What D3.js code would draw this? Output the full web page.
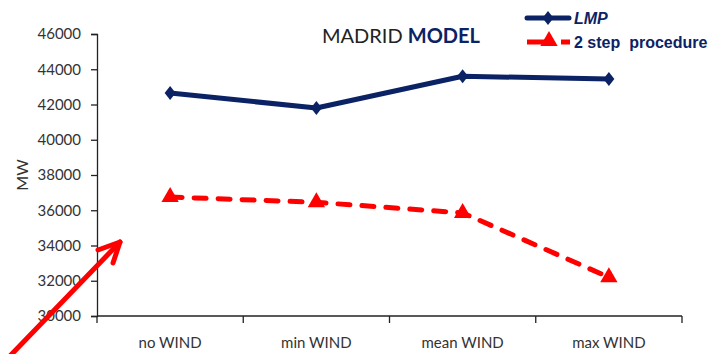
<!DOCTYPE html>
<html>
<head>
<meta charset="utf-8">
<script src="https://cdn.jsdelivr.net/npm/d3@7"></script>
<style>
  html, body { margin: 0; padding: 0; background: #fff; }
  svg { display: block; }
  .tick text { font-family: Lato, "Open Sans", sans-serif; fill: #333; }
</style>
</head>
<body>
<svg id="chart" width="719" height="354"></svg>
<script>
// Scenario categories and the two series (MW)
const categories = ["no WIND", "min WIND", "mean WIND", "max WIND"];
const lmpValues = [42650, 41800, 43600, 43450];
const twoStepValues = [36750, 36450, 35850, 32200];
const yTicks = [30000, 32000, 34000, 36000, 38000, 40000, 42000, 44000, 46000];

const svg = d3.select("#chart");
const plotLeft = 97, plotRight = 682, plotTop = 34, plotBottom = 316;

const x = d3.scaleBand().domain(categories).range([plotLeft, plotRight]).padding(0);
const y = d3.scaleLinear().domain([30000, 46000]).range([plotBottom, plotTop]);

const navy = "#0b2364";
const red = "#ff0000";

// Y axis
const yAxis = svg.append("g")
  .attr("transform", `translate(${plotLeft},0)`)
  .call(d3.axisLeft(y).tickValues(yTicks).tickSize(6).tickPadding(10).tickFormat(d3.format("d")));
yAxis.selectAll("text").style("font-size", "15px");
yAxis.selectAll("path, line").attr("stroke", "#222").attr("stroke-width", 1.3);

// X axis with ticks on the band boundaries
const xAxis = svg.append("g")
  .attr("transform", `translate(0,${plotBottom})`);
xAxis.append("line")
  .attr("x1", plotLeft).attr("x2", plotRight).attr("y1", 0).attr("y2", 0)
  .attr("stroke", "#222").attr("stroke-width", 1.3);
const boundaries = categories.map(c => x(c)).concat([plotRight]);
xAxis.selectAll("line.tk").data(boundaries).join("line")
  .attr("class", "tk")
  .attr("x1", d => d).attr("x2", d => d).attr("y1", 0).attr("y2", 7)
  .attr("stroke", "#222").attr("stroke-width", 1.3);
xAxis.selectAll("text").data(categories).join("text")
  .attr("x", d => x(d) + x.bandwidth() / 2)
  .attr("y", 32)
  .attr("text-anchor", "middle")
  .style("font-family", "Lato, 'Open Sans', sans-serif")
  .style("font-size", "15px")
  .attr("fill", "#333")
  .text(d => d);

// Y axis title
svg.append("text")
  .attr("transform", `translate(28,175) rotate(-90)`)
  .attr("text-anchor", "middle")
  .style("font-family", "Lato, 'Open Sans', sans-serif")
  .style("font-size", "16px")
  .attr("fill", "#333")
  .text("MW");

const cx = d => x(d) + x.bandwidth() / 2;
const line = d3.line().x(d => cx(d[0])).y(d => y(d[1]));

// 2 step procedure (dashed red, triangles)
const twoStep = categories.map((c, i) => [c, twoStepValues[i]]);
svg.append("path")
  .datum(twoStep)
  .attr("d", line)
  .attr("fill", "none")
  .attr("stroke", red)
  .attr("stroke-width", 5)
  .attr("stroke-dasharray", "12 12")
  .attr("stroke-linecap", "round");
const tri = d3.symbol().type(d3.symbolTriangle).size(130);
svg.selectAll("path.tri").data(twoStep).join("path")
  .attr("class", "tri")
  .attr("d", tri)
  .attr("transform", d => `translate(${cx(d[0])},${y(d[1])})`)
  .attr("fill", red);

// LMP (solid navy, diamonds)
const lmp = categories.map((c, i) => [c, lmpValues[i]]);
svg.append("path")
  .datum(lmp)
  .attr("d", line)
  .attr("fill", "none")
  .attr("stroke", navy)
  .attr("stroke-width", 5)
  .attr("stroke-linejoin", "round");
const diamondPath = "M0,-7L5.5,0L0,7L-5.5,0Z";
svg.selectAll("path.dia").data(lmp).join("path")
  .attr("class", "dia")
  .attr("d", diamondPath)
  .attr("transform", d => `translate(${cx(d[0])},${y(d[1])})`)
  .attr("fill", navy);

// Title
const title = svg.append("text")
  .attr("x", 322).attr("y", 43)
  .style("font-family", "Lato, 'Open Sans', sans-serif")
  .style("font-size", "20px");
title.append("tspan").attr("fill", "#222").text("MADRID ");
title.append("tspan").attr("fill", navy).style("font-weight", "bold").text("MODEL");

// Legend
const lg = svg.append("g");
lg.append("line").attr("x1", 527).attr("x2", 569).attr("y1", 18).attr("y2", 18)
  .attr("stroke", navy).attr("stroke-width", 5).attr("stroke-linecap", "round");
lg.append("path").attr("d", diamondPath).attr("transform", "translate(548,18)").attr("fill", navy);
lg.append("text").attr("x", 574).attr("y", 24)
  .style("font-family", "'Liberation Sans', Arial, sans-serif")
  .style("font-size", "16px").style("font-weight", "bold").style("font-style", "italic")
  .attr("fill", navy).text("LMP");

lg.append("line").attr("x1", 527).attr("x2", 548).attr("y1", 42).attr("y2", 42)
  .attr("stroke", red).attr("stroke-width", 5);
lg.append("line").attr("x1", 561).attr("x2", 570).attr("y1", 42).attr("y2", 42)
  .attr("stroke", red).attr("stroke-width", 5);
lg.append("path").attr("d", tri).attr("transform", "translate(549,41)").attr("fill", red);
lg.append("text").attr("x", 574).attr("y", 48)
  .style("font-family", "'Liberation Sans', Arial, sans-serif")
  .style("font-size", "16px").style("font-weight", "bold")
  .attr("fill", navy).style("white-space", "pre")
  .text("2 step  procedure");

// Annotation arrow pointing into the plot
const arrow = svg.append("g").attr("stroke", red).attr("stroke-width", 5)
  .attr("fill", "none").attr("stroke-linecap", "round").attr("stroke-linejoin", "round");
arrow.append("line").attr("x1", 8).attr("y1", 358).attr("x2", 120).attr("y2", 242);
arrow.append("path").attr("d", "M98,250L120,242L113,263");
</script>
</body>
</html>
